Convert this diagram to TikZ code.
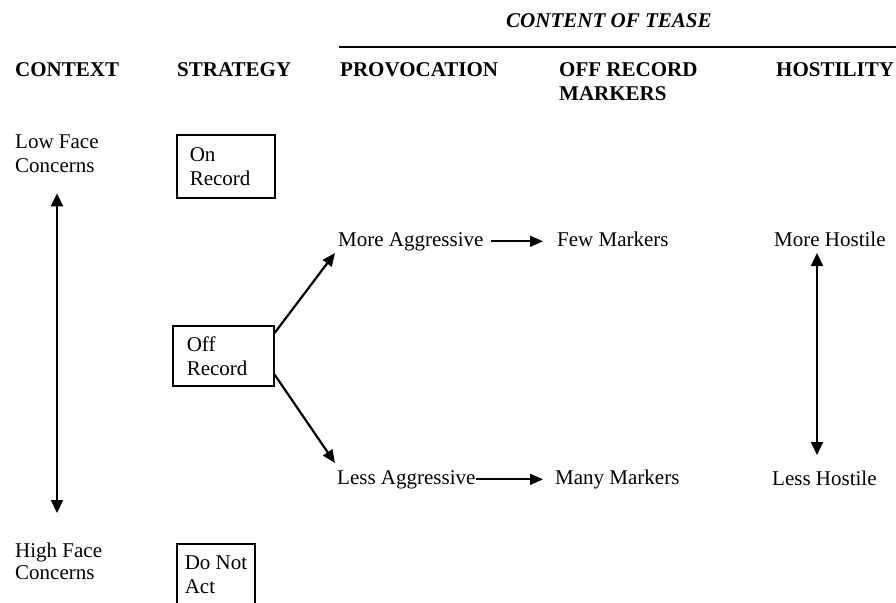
\documentclass[tikz,border=0pt]{standalone}
\usepackage{fontspec}
\setmainfont{Liberation Serif}
\usetikzlibrary{positioning,arrows.meta}

\begin{document}
\begin{tikzpicture}[
    x=1pt, y=-1pt,
    every node/.style={
        font=\fontsize{21}{24}\selectfont,
        inner sep=0pt
    },
    heading/.style={
        font=\fontsize{21}{24}\selectfont\bfseries,
        align=left
    },
    term/.style={
        anchor=base west
    },
    stratbox/.style={
        draw,
        line width=1.6pt,
        anchor=north west,
        align=left,
        inner xsep=13pt
    },
    arr/.style={
        -{Triangle[length=13pt,width=11pt]},
        line width=1.8pt
    },
    dblarr/.style={
        {Triangle[length=13pt,width=12pt]}-{Triangle[length=13pt,width=12pt]},
        line width=2.2pt
    }
    ]

    \clip (0,0) rectangle (896,602);

    \node[heading, term, font=\fontsize{21}{24}\selectfont\bfseries\itshape] (head_tease) at (506,28) {CONTENT OF TEASE};
    \coordinate (rule_start) at (339,47);
    \coordinate (rule_end) at (896,47);
    \draw[line width=2pt] (rule_start) -- (rule_end);

    \node[heading, term] (head_context) at (15,76) {CONTEXT};
    \node[heading, term] (head_strategy) at (177,76) {STRATEGY};
    \node[heading, term] (head_provocation) at (340,76) {PROVOCATION};
    \node[heading, anchor=north west] (head_markers) at (559,62) {OFF RECORD\\MARKERS};
    \node[heading, term] (head_hostility) at (776,76) {HOSTILITY};

    \node[anchor=north west, align=left] (low_face) at (15,135) {Low Face\\Concerns};
    \node[anchor=north west, align=left, font=\fontsize{21}{22}\selectfont] (high_face) at (15,543) {High Face\\Concerns};

    \node[stratbox, text width=72pt, minimum height=63pt] (box_on) at (176,134) {On\\Record};
    \node[stratbox, text width=73pt, inner xsep=14pt, minimum height=60pt] (box_off) at (172,325) {Off\\Record};
    \node[stratbox, inner xsep=8pt, minimum height=62pt] (box_none) at (176,543) {Do Not\\Act};

    \node[term] (more_agg) at (338,246) {More Aggressive};
    \node[term] (few_mark) at (557,246) {Few Markers};
    \node[term] (less_agg) at (337,484) {Less Aggressive};
    \node[term] (many_mark) at (555,484) {Many Markers};
    \node[term] (more_host) at (774,246) {More Hostile};
    \node[term] (less_host) at (772,485) {Less Hostile};

    \draw[dblarr] ([xshift=42pt,yshift=-20pt]low_face.south west) -- ([xshift=42pt,yshift=30pt]high_face.north west);
    \draw[dblarr] ([xshift=43pt,yshift=-7pt]more_host.base west) -- ([xshift=45pt,yshift=30pt]less_host.base west);

    \draw[arr, line width=2.2pt] ([yshift=-8pt]box_off.north east) -- ([xshift=-3pt,yshift=-7pt]more_agg.base west);
    \draw[arr, line width=2.2pt] ([yshift=12pt]box_off.south east) -- ([xshift=-2pt,yshift=21pt]less_agg.base west);

    \draw[arr, shorten <=7pt, shorten >=14pt] (more_agg.east) -- (more_agg.east -| few_mark.west);
    \draw[arr, shorten >=12pt] (less_agg.east) -- (less_agg.east -| many_mark.west);
\end{tikzpicture}
\end{document}
